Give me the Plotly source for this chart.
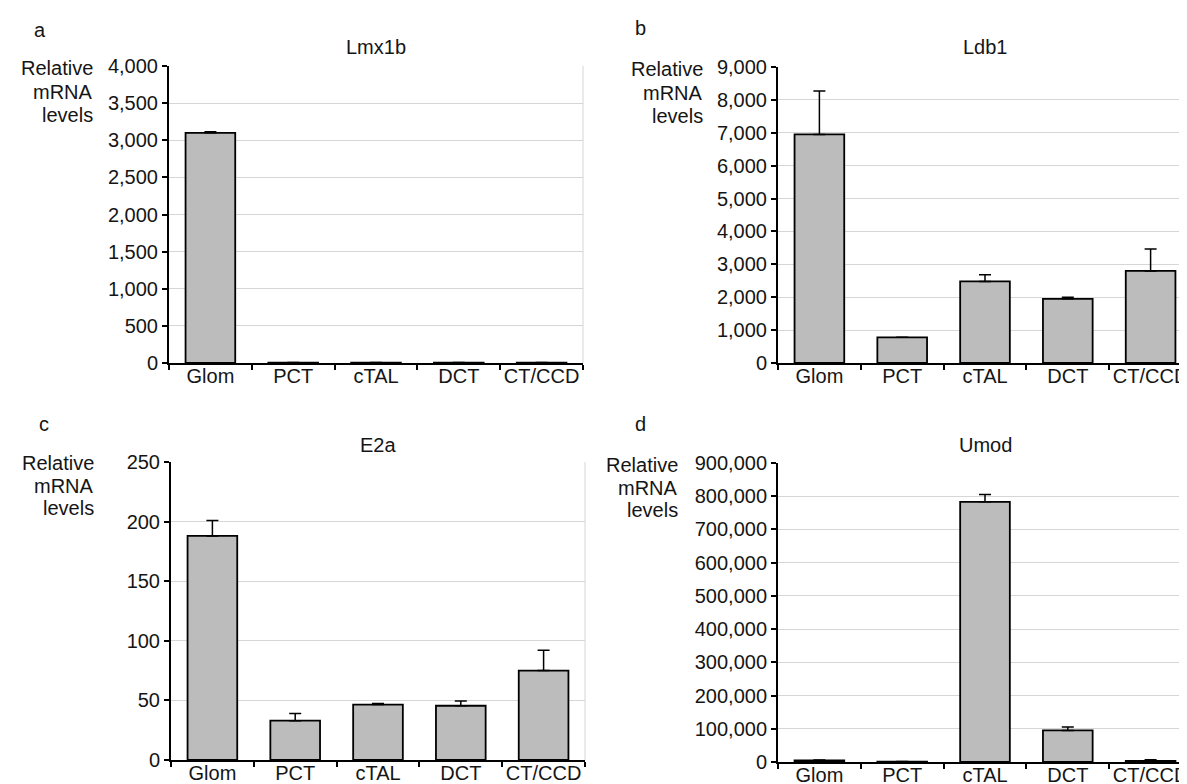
import plotly.graph_objects as go

categories = ["Glom", "PCT", "cTAL", "DCT", "CT/CCD"]

lmx1b_values = [3100, 4, 4, 4, 4]
lmx1b_errors = [15, 2, 2, 2, 2]

ldb1_values = [6950, 780, 2480, 1950, 2800]
ldb1_errors = [1320, 0, 200, 50, 670]

e2a_values = [188, 33, 46.5, 45.5, 75]
e2a_errors = [13, 6, 1, 4, 17]

umod_values = [5000, 1000, 783000, 95000, 3000]
umod_errors = [1000, 500, 22000, 10000, 4000]

W, H = 1187, 784
panels = [
    dict(name="Lmx1b", letter="a", vals=lmx1b_values, errs=lmx1b_errors, ymax=4000, dtick=500,
         px=(161, 575), py=(58, 355), letter_xy=(32, 22), lab_x=87, lab_y=(60, 84, 107), title_y=39),
    dict(name="Ldb1", letter="b", vals=ldb1_values, errs=ldb1_errors, ymax=9000, dtick=1000,
         px=(770, 1184), py=(59, 355), letter_xy=(632, 20), lab_x=697, lab_y=(61, 85, 108), title_y=39),
    dict(name="E2a", letter="c", vals=e2a_values, errs=e2a_errors, ymax=250, dtick=50,
         px=(163, 577), py=(454, 752), letter_xy=(36, 416), lab_x=88, lab_y=(455, 478, 500), title_y=437),
    dict(name="Umod", letter="d", vals=umod_values, errs=umod_errors, ymax=900000, dtick=100000,
         px=(770, 1184), py=(455, 754), letter_xy=(632, 416), lab_x=672, lab_y=(457, 480, 502), title_y=437),
]

FONT = "Liberation Sans, Arial, Helvetica, sans-serif"
TXT = "#151515"
fig = go.Figure()
annotations = []
shapes = []

for i, p in enumerate(panels, start=1):
    xa = "x" if i == 1 else f"x{i}"
    ya = "y" if i == 1 else f"y{i}"
    fig.add_trace(go.Bar(
        x=categories, y=p["vals"], xaxis=xa, yaxis=ya,
        marker=dict(color="#bcbcbc", line=dict(color="black", width=1.8)),
        width=0.6,
        error_y=dict(type="data", array=p["errs"], arrayminus=[0] * 5, symmetric=False,
                     color="black", thickness=1.5, width=6),
        showlegend=False,
    ))
    xkey = "xaxis" if i == 1 else f"xaxis{i}"
    ykey = "yaxis" if i == 1 else f"yaxis{i}"
    xd = [p["px"][0] / W, p["px"][1] / W]
    yd = [1 - p["py"][1] / H, 1 - p["py"][0] / H]
    fig.update_layout({
        xkey: dict(domain=xd, anchor=ya, showline=True, linecolor="black", linewidth=2,
                   ticks="outside", tickson="boundaries", ticklen=5, tickwidth=2, tickcolor="black",
                   tickangle=0, automargin=False, ticklabelstandoff=-6,
                   tickfont=dict(family=FONT, size=20, color=TXT), showgrid=False),
        ykey: dict(domain=yd, anchor=xa, range=[0, p["ymax"]], dtick=p["dtick"],
                   tickformat=",d", showline=True, linecolor="black", linewidth=2,
                   ticks="outside", ticklen=5, tickwidth=2, tickcolor="black", automargin=False,
                   showgrid=True, gridcolor="#d6d6d6", gridwidth=1, zeroline=False,
                   tickfont=dict(family=FONT, size=20, color=TXT)),
    })
    shapes.append(dict(type="line", xref=f"{xa} domain", yref=f"{ya} domain",
                       x0=1, x1=1, y0=0, y1=1, line=dict(color="#d6d6d6", width=1)))
    annotations.append(dict(text=p["name"], xref=f"{xa} domain", yref="paper",
                            x=0.5, y=1 - p["title_y"] / H, showarrow=False,
                            xanchor="center", yanchor="middle",
                            font=dict(family=FONT, size=20, color=TXT)))
    lx, ly = p["letter_xy"]
    annotations.append(dict(text=p["letter"], xref="paper", yref="paper",
                            x=lx / W, y=1 - ly / H, showarrow=False, xanchor="center",
                            yanchor="middle", font=dict(family=FONT, size=20, color=TXT)))
    for word, yy in zip(["Relative", "mRNA", "levels"], p["lab_y"]):
        annotations.append(dict(text=word, xref="paper", yref="paper",
                                x=p["lab_x"] / W, y=1 - yy / H, showarrow=False,
                                xanchor="right", yanchor="middle",
                                font=dict(family=FONT, size=20, color=TXT)))

fig.update_layout(
    width=W, height=H, margin=dict(l=0, r=0, t=0, b=0, pad=0, autoexpand=False),
    paper_bgcolor="white", plot_bgcolor="white",
    annotations=annotations, shapes=shapes, bargap=0.4,
)
fig.write_html("out.html")
